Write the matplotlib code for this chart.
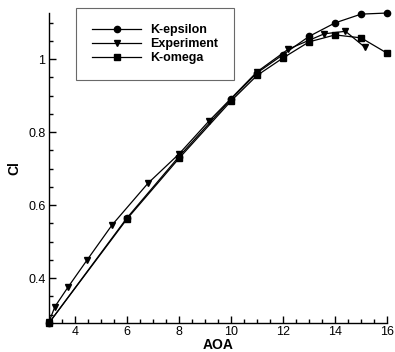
import matplotlib
matplotlib.use("Agg")
import matplotlib.pyplot as plt
from matplotlib.ticker import MultipleLocator, FuncFormatter

plt.rcParams["font.family"] = ["Liberation Sans", "DejaVu Sans"]

# simulation angles of attack
aoa_sim = [3, 6, 8, 10, 11, 12, 13, 14, 15, 16]
cl_keps = [0.277, 0.565, 0.733, 0.890, 0.962, 1.012, 1.062, 1.099, 1.123, 1.126]
cl_komega = [0.277, 0.562, 0.728, 0.885, 0.955, 1.003, 1.047, 1.066, 1.058, 1.016]

# experiment
aoa_exp = [3.0, 3.23, 3.73, 4.46, 5.42, 6.81, 8.0, 9.15, 11.0, 12.2, 13.58, 14.4, 15.15]
cl_exp = [0.28, 0.322, 0.375, 0.449, 0.545, 0.660, 0.74, 0.830, 0.965, 1.027, 1.069, 1.076, 1.032]

fig = plt.figure(figsize=(3.95, 3.52), dpi=100)
ax = fig.add_axes([0.124, 0.0824, 0.856, 0.8806])

ax.plot(aoa_sim, cl_keps, "k-o", lw=0.9, ms=4.5, label="K-epsilon", clip_on=False)
ax.plot(aoa_exp, cl_exp, "k-v", lw=0.9, ms=5, label="Experiment", clip_on=False)
ax.plot(aoa_sim, cl_komega, "k-s", lw=0.9, ms=4.5, label="K-omega", clip_on=False)

ax.set_xlim(3, 16)
ax.set_ylim(0.277, 1.126)
ax.spines["top"].set_visible(False)
ax.spines["right"].set_visible(False)
for s in ("left", "bottom"):
    ax.spines[s].set_linewidth(1.0)

ax.xaxis.set_major_locator(MultipleLocator(2))
ax.xaxis.set_minor_locator(MultipleLocator(0.5))
ax.yaxis.set_major_locator(MultipleLocator(0.2))
ax.yaxis.set_minor_locator(MultipleLocator(0.05))
fmt = FuncFormatter(lambda v, p: "%g" % round(v, 2))
ax.xaxis.set_major_formatter(fmt)
ax.yaxis.set_major_formatter(fmt)
ax.tick_params(which="both", direction="in", labelsize=9, width=1.0)
ax.tick_params(which="major", length=5, pad=2.5)
ax.tick_params(which="minor", length=3)

ax.set_xlabel("AOA", fontsize=10, fontweight="bold", labelpad=0)
ax.set_ylabel("Cl", fontsize=10, fontweight="bold", labelpad=5)

leg = ax.legend(loc="upper left", bbox_to_anchor=(0.08, 1.016), fancybox=False,
                edgecolor="#444444", handlelength=3.9, handletextpad=0.7,
                borderpad=1.3, borderaxespad=0, labelspacing=0.15,
                prop={"weight": "bold", "size": 9})
leg.get_frame().set_linewidth(0.8)

fig.savefig("out.png", dpi=100)
